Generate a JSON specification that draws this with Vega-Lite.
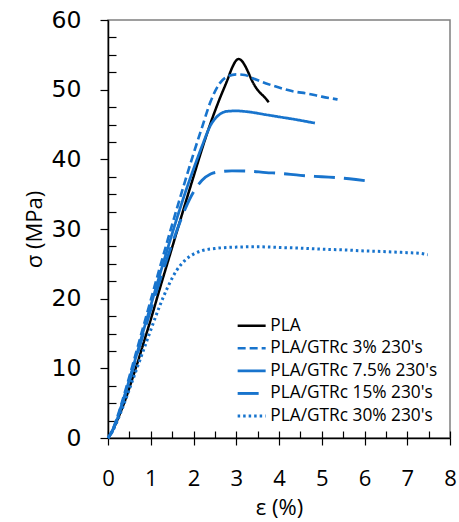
{
"$schema": "https://vega.github.io/schema/vega-lite/v6.json",
"width": 342, "height": 418,
"autosize": {"type": "none"},
"padding": {"left": 108, "top": 20, "right": 9, "bottom": 84},
"config": {"view": {"stroke": "#7f7f7f", "strokeWidth": 1.5}, "font": "Open Sans"},
"data": {"values": [
{"series":"PLA","strain":0,"stress":0},{"series":"PLA","strain":0.1,"stress":1},{"series":"PLA","strain":0.2,"stress":2.3},{"series":"PLA","strain":0.3,"stress":3.8},{"series":"PLA","strain":0.4,"stress":5.4},{"series":"PLA","strain":0.5,"stress":7.2},{"series":"PLA","strain":0.6,"stress":9.1},{"series":"PLA","strain":0.7,"stress":11},{"series":"PLA","strain":0.8,"stress":13},{"series":"PLA","strain":0.9,"stress":15},{"series":"PLA","strain":1.0,"stress":17},{"series":"PLA","strain":1.2,"stress":21.2},{"series":"PLA","strain":1.4,"stress":25.3},{"series":"PLA","strain":1.6,"stress":29.4},{"series":"PLA","strain":1.8,"stress":33.5},{"series":"PLA","strain":2.0,"stress":37.5},{"series":"PLA","strain":2.2,"stress":41.5},{"series":"PLA","strain":2.4,"stress":45.2},{"series":"PLA","strain":2.6,"stress":48.5},{"series":"PLA","strain":2.8,"stress":51.5},{"series":"PLA","strain":2.9,"stress":53.1},{"series":"PLA","strain":3.0,"stress":54.2},{"series":"PLA","strain":3.05,"stress":54.4},{"series":"PLA","strain":3.12,"stress":54.2},{"series":"PLA","strain":3.2,"stress":53.5},{"series":"PLA","strain":3.28,"stress":52.5},{"series":"PLA","strain":3.36,"stress":51.4},{"series":"PLA","strain":3.45,"stress":50.4},{"series":"PLA","strain":3.55,"stress":49.6},{"series":"PLA","strain":3.65,"stress":49},{"series":"PLA","strain":3.76,"stress":48.2},
{"series":"PLA/GTRc 3% 230's","strain":0,"stress":0},{"series":"PLA/GTRc 3% 230's","strain":0.1,"stress":1.1},{"series":"PLA/GTRc 3% 230's","strain":0.2,"stress":2.7},{"series":"PLA/GTRc 3% 230's","strain":0.3,"stress":4.6},{"series":"PLA/GTRc 3% 230's","strain":0.4,"stress":6.7},{"series":"PLA/GTRc 3% 230's","strain":0.5,"stress":8.8},{"series":"PLA/GTRc 3% 230's","strain":0.6,"stress":11},{"series":"PLA/GTRc 3% 230's","strain":0.7,"stress":13.2},{"series":"PLA/GTRc 3% 230's","strain":0.8,"stress":15.4},{"series":"PLA/GTRc 3% 230's","strain":0.9,"stress":17.6},{"series":"PLA/GTRc 3% 230's","strain":1.0,"stress":19.8},{"series":"PLA/GTRc 3% 230's","strain":1.2,"stress":24.2},{"series":"PLA/GTRc 3% 230's","strain":1.4,"stress":28.5},{"series":"PLA/GTRc 3% 230's","strain":1.6,"stress":32.7},{"series":"PLA/GTRc 3% 230's","strain":1.8,"stress":36.8},{"series":"PLA/GTRc 3% 230's","strain":2.0,"stress":40.8},{"series":"PLA/GTRc 3% 230's","strain":2.2,"stress":44.6},{"series":"PLA/GTRc 3% 230's","strain":2.4,"stress":48.3},{"series":"PLA/GTRc 3% 230's","strain":2.6,"stress":50.8},{"series":"PLA/GTRc 3% 230's","strain":2.8,"stress":51.9},{"series":"PLA/GTRc 3% 230's","strain":3.0,"stress":52.2},{"series":"PLA/GTRc 3% 230's","strain":3.2,"stress":52.1},{"series":"PLA/GTRc 3% 230's","strain":3.4,"stress":51.6},{"series":"PLA/GTRc 3% 230's","strain":3.7,"stress":50.9},{"series":"PLA/GTRc 3% 230's","strain":4.0,"stress":50.3},{"series":"PLA/GTRc 3% 230's","strain":4.3,"stress":49.8},{"series":"PLA/GTRc 3% 230's","strain":4.7,"stress":49.4},{"series":"PLA/GTRc 3% 230's","strain":5.0,"stress":49.0},{"series":"PLA/GTRc 3% 230's","strain":5.37,"stress":48.6},
{"series":"PLA/GTRc 7.5% 230's","strain":0,"stress":0},{"series":"PLA/GTRc 7.5% 230's","strain":0.1,"stress":1},{"series":"PLA/GTRc 7.5% 230's","strain":0.2,"stress":2.5},{"series":"PLA/GTRc 7.5% 230's","strain":0.3,"stress":4.3},{"series":"PLA/GTRc 7.5% 230's","strain":0.4,"stress":6.3},{"series":"PLA/GTRc 7.5% 230's","strain":0.5,"stress":8.4},{"series":"PLA/GTRc 7.5% 230's","strain":0.6,"stress":10.5},{"series":"PLA/GTRc 7.5% 230's","strain":0.7,"stress":12.6},{"series":"PLA/GTRc 7.5% 230's","strain":0.8,"stress":14.8},{"series":"PLA/GTRc 7.5% 230's","strain":0.9,"stress":16.9},{"series":"PLA/GTRc 7.5% 230's","strain":1.0,"stress":19},{"series":"PLA/GTRc 7.5% 230's","strain":1.2,"stress":23.2},{"series":"PLA/GTRc 7.5% 230's","strain":1.4,"stress":27.3},{"series":"PLA/GTRc 7.5% 230's","strain":1.6,"stress":31.3},{"series":"PLA/GTRc 7.5% 230's","strain":1.8,"stress":35.1},{"series":"PLA/GTRc 7.5% 230's","strain":2.0,"stress":38.6},{"series":"PLA/GTRc 7.5% 230's","strain":2.2,"stress":41.9},{"series":"PLA/GTRc 7.5% 230's","strain":2.4,"stress":44.9},{"series":"PLA/GTRc 7.5% 230's","strain":2.6,"stress":46.4},{"series":"PLA/GTRc 7.5% 230's","strain":2.8,"stress":46.9},{"series":"PLA/GTRc 7.5% 230's","strain":3.0,"stress":46.95},{"series":"PLA/GTRc 7.5% 230's","strain":3.3,"stress":46.8},{"series":"PLA/GTRc 7.5% 230's","strain":3.7,"stress":46.4},{"series":"PLA/GTRc 7.5% 230's","strain":4.0,"stress":46.1},{"series":"PLA/GTRc 7.5% 230's","strain":4.4,"stress":45.7},{"series":"PLA/GTRc 7.5% 230's","strain":4.84,"stress":45.2},
{"series":"PLA/GTRc 15% 230's","strain":0,"stress":0},{"series":"PLA/GTRc 15% 230's","strain":0.1,"stress":1},{"series":"PLA/GTRc 15% 230's","strain":0.2,"stress":2.5},{"series":"PLA/GTRc 15% 230's","strain":0.3,"stress":4.3},{"series":"PLA/GTRc 15% 230's","strain":0.4,"stress":6.2},{"series":"PLA/GTRc 15% 230's","strain":0.5,"stress":8.2},{"series":"PLA/GTRc 15% 230's","strain":0.6,"stress":10.3},{"series":"PLA/GTRc 15% 230's","strain":0.7,"stress":12.3},{"series":"PLA/GTRc 15% 230's","strain":0.8,"stress":14.4},{"series":"PLA/GTRc 15% 230's","strain":0.9,"stress":16.4},{"series":"PLA/GTRc 15% 230's","strain":1.0,"stress":18.4},{"series":"PLA/GTRc 15% 230's","strain":1.2,"stress":22.3},{"series":"PLA/GTRc 15% 230's","strain":1.4,"stress":26.1},{"series":"PLA/GTRc 15% 230's","strain":1.6,"stress":29.6},{"series":"PLA/GTRc 15% 230's","strain":1.8,"stress":32.8},{"series":"PLA/GTRc 15% 230's","strain":2.0,"stress":35.3},{"series":"PLA/GTRc 15% 230's","strain":2.2,"stress":37},{"series":"PLA/GTRc 15% 230's","strain":2.4,"stress":37.9},{"series":"PLA/GTRc 15% 230's","strain":2.6,"stress":38.2},{"series":"PLA/GTRc 15% 230's","strain":2.9,"stress":38.35},{"series":"PLA/GTRc 15% 230's","strain":3.3,"stress":38.3},{"series":"PLA/GTRc 15% 230's","strain":3.7,"stress":38.1},{"series":"PLA/GTRc 15% 230's","strain":4.0,"stress":38.0},{"series":"PLA/GTRc 15% 230's","strain":4.5,"stress":37.7},{"series":"PLA/GTRc 15% 230's","strain":5.0,"stress":37.5},{"series":"PLA/GTRc 15% 230's","strain":5.5,"stress":37.3},{"series":"PLA/GTRc 15% 230's","strain":5.8,"stress":37.1},{"series":"PLA/GTRc 15% 230's","strain":6.17,"stress":36.8},
{"series":"PLA/GTRc 30% 230's","strain":0,"stress":0},{"series":"PLA/GTRc 30% 230's","strain":0.1,"stress":0.9},{"series":"PLA/GTRc 30% 230's","strain":0.2,"stress":2.2},{"series":"PLA/GTRc 30% 230's","strain":0.3,"stress":3.7},{"series":"PLA/GTRc 30% 230's","strain":0.4,"stress":5.3},{"series":"PLA/GTRc 30% 230's","strain":0.5,"stress":7},{"series":"PLA/GTRc 30% 230's","strain":0.6,"stress":8.7},{"series":"PLA/GTRc 30% 230's","strain":0.7,"stress":10.4},{"series":"PLA/GTRc 30% 230's","strain":0.8,"stress":12.1},{"series":"PLA/GTRc 30% 230's","strain":0.9,"stress":13.8},{"series":"PLA/GTRc 30% 230's","strain":1.0,"stress":15.5},{"series":"PLA/GTRc 30% 230's","strain":1.2,"stress":18.8},{"series":"PLA/GTRc 30% 230's","strain":1.4,"stress":21.7},{"series":"PLA/GTRc 30% 230's","strain":1.6,"stress":24},{"series":"PLA/GTRc 30% 230's","strain":1.8,"stress":25.5},{"series":"PLA/GTRc 30% 230's","strain":2.0,"stress":26.4},{"series":"PLA/GTRc 30% 230's","strain":2.2,"stress":26.9},{"series":"PLA/GTRc 30% 230's","strain":2.5,"stress":27.2},{"series":"PLA/GTRc 30% 230's","strain":3.0,"stress":27.4},{"series":"PLA/GTRc 30% 230's","strain":3.5,"stress":27.45},{"series":"PLA/GTRc 30% 230's","strain":4.0,"stress":27.35},{"series":"PLA/GTRc 30% 230's","strain":4.5,"stress":27.25},{"series":"PLA/GTRc 30% 230's","strain":5.0,"stress":27.1},{"series":"PLA/GTRc 30% 230's","strain":5.5,"stress":27},{"series":"PLA/GTRc 30% 230's","strain":6.0,"stress":26.85},{"series":"PLA/GTRc 30% 230's","strain":6.5,"stress":26.75},{"series":"PLA/GTRc 30% 230's","strain":7.0,"stress":26.6},{"series":"PLA/GTRc 30% 230's","strain":7.3,"stress":26.5},{"series":"PLA/GTRc 30% 230's","strain":7.48,"stress":26.3}
]},
"layer": [
{
"mark": {"type": "line", "interpolate": "monotone"},
"encoding": {
"x": {"field": "strain", "type": "quantitative", "scale": {"domain": [0, 8], "nice": false},
 "axis": {"values": [0,1,2,3,4,5,6,7,8], "tickSize": 7, "tickColor": "#000", "tickWidth": 1.2, "domainColor": "#000", "domainWidth": 1.5, "grid": false, "labelFont": "Open Sans", "labelFontSize": 22, "labelColor": "#000", "labelPadding": 23, "labelFlush": false, "labelOverlap": false, "title": "ε (%)", "titleFont": "Open Sans", "titleFontSize": 22, "titleFontWeight": "normal", "titleColor": "#000", "titlePadding": 8}},
"y": {"field": "stress", "type": "quantitative", "scale": {"domain": [0, 60], "nice": false},
 "axis": {"values": [0,10,20,30,40,50,60], "tickSize": 8, "tickColor": "#000", "tickWidth": 1.2, "domainColor": "#000", "domainWidth": 1.5, "grid": false, "labelFont": "DejaVu Sans", "labelFontSize": 23.5, "labelColor": "#000", "labelPadding": 19, "labelFlush": false, "labelOverlap": false, "title": "σ (MPa)", "titleFont": "Open Sans", "titleFontSize": 22, "titleFontWeight": "normal", "titleColor": "#000", "titlePadding": 5}},
"color": {"field": "series", "type": "nominal",
 "scale": {"domain": ["PLA","PLA/GTRc 3% 230's","PLA/GTRc 7.5% 230's","PLA/GTRc 15% 230's","PLA/GTRc 30% 230's"], "range": ["#000000","#1874CD","#1874CD","#1874CD","#1874CD"]},
 "legend": {"title": null, "orient": "none", "legendX": 135, "legendY": 297, "symbolType": "M-2.333,0H2.333", "symbolSize": 144, "symbolStrokeWidth": 3, "labelFont": "Open Sans", "labelFontSize": 17.3, "labelColor": "#000", "rowPadding": 4.6, "labelOffset": 10, "padding": 0, "labelLimit": 300}},
"strokeDash": {"field": "series", "type": "nominal",
 "scale": {"domain": ["PLA","PLA/GTRc 3% 230's","PLA/GTRc 7.5% 230's","PLA/GTRc 15% 230's","PLA/GTRc 30% 230's"], "range": [[1,0],[8,4],[1,0],[21,9],[2.5,3]]},
 "legend": {"title": null, "orient": "none", "legendX": 135, "legendY": 297, "symbolType": "M-2.333,0H2.333", "symbolSize": 144, "symbolStrokeWidth": 3, "labelFont": "Open Sans", "labelFontSize": 17.3, "labelColor": "#000", "rowPadding": 4.6, "labelOffset": 10, "padding": 0, "labelLimit": 300}},
"strokeWidth": {"field": "series", "type": "nominal",
 "scale": {"domain": ["PLA","PLA/GTRc 3% 230's","PLA/GTRc 7.5% 230's","PLA/GTRc 15% 230's","PLA/GTRc 30% 230's"], "range": [2.5,3,3,3,2.6]}, "legend": null}
}
},
{
"mark": {"type": "line", "strokeOpacity": 0},
"encoding": {
"x": {"field": "strain", "type": "quantitative", "scale": {"domain": [0, 8], "nice": false},
 "axis": {"orient": "bottom", "values": [0,0.5,1,1.5,2,2.5,3,3.5,4,4.5,5,5.5,6,6.5,7,7.5,8], "tickSize": -7, "tickColor": "#000", "tickWidth": 1.2, "domain": false, "labels": false, "grid": false, "title": null}},
"y": {"field": "stress", "type": "quantitative", "scale": {"domain": [0, 60], "nice": false},
 "axis": {"orient": "left", "values": [2.5,5,7.5,12.5,15,17.5,22.5,25,27.5,32.5,35,37.5,42.5,45,47.5,52.5,55,57.5], "tickSize": -8, "tickColor": "#000", "tickWidth": 1.2, "domain": false, "labels": false, "grid": false, "title": null}},
"detail": {"field": "series", "type": "nominal"}
}
}
],
"resolve": {"axis": {"x": "independent", "y": "independent"}}
}
